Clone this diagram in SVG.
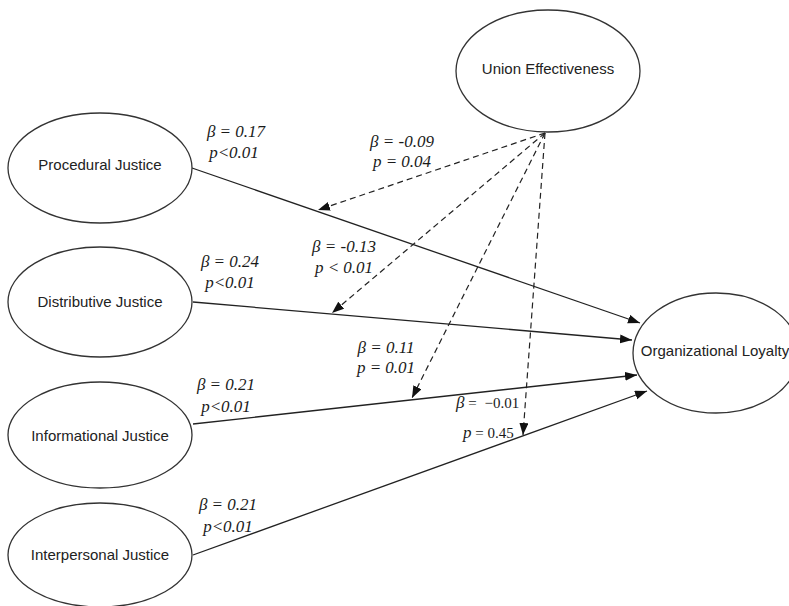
<svg xmlns="http://www.w3.org/2000/svg" width="789" height="606" viewBox="0 0 789 606">
<style>
.node{fill:#fff;stroke:#333;stroke-width:1.3}
.nt{font-family:"Liberation Sans",Arial,sans-serif;font-size:15px;fill:#222;text-anchor:middle}
.lab{font-family:"Liberation Serif","Times New Roman",serif;font-style:italic;font-size:17px;fill:#1a1a1a;text-anchor:middle}
.lab2{font-family:"Liberation Serif","Times New Roman",serif;font-size:15px;fill:#1a1a1a}
.e{stroke:#222;stroke-width:1.3;fill:none}
.d{stroke:#222;stroke-width:1.2;fill:none;stroke-dasharray:6 4}
</style>
<defs>
<marker id="ah" markerUnits="userSpaceOnUse" markerWidth="13" markerHeight="10" refX="12" refY="4.5" orient="auto">
<path d="M0,0 L12,4.5 L0,9 z" fill="#111"/>
</marker>
</defs>
<rect width="789" height="606" fill="#fff"/>
<g id="connectors">
<line class="e" x1="192" y1="168" x2="640" y2="323" marker-end="url(#ah)"/>
<line class="e" x1="193" y1="302" x2="632" y2="340" marker-end="url(#ah)"/>
<line class="e" x1="193" y1="424" x2="637" y2="375" marker-end="url(#ah)"/>
<line class="e" x1="193" y1="555" x2="647" y2="391" marker-end="url(#ah)"/>
<line class="d" x1="545" y1="133" x2="318" y2="210" marker-end="url(#ah)"/>
<line class="d" x1="545" y1="133" x2="332" y2="313" marker-end="url(#ah)"/>
<line class="d" x1="545" y1="133" x2="412" y2="398" marker-end="url(#ah)"/>
<line class="d" x1="545" y1="133" x2="523" y2="435" marker-end="url(#ah)"/>
</g>
<g id="labels">
<text class="lab" x="236" y="137">β = 0.17</text>
<text class="lab" x="234" y="158">p&lt;0.01</text>
<text class="lab" x="402" y="147">β = -0.09</text>
<text class="lab" x="402" y="167">p = 0.04</text>
<text class="lab" x="344" y="252">β = -0.13</text>
<text class="lab" x="344" y="273">p &lt; 0.01</text>
<text class="lab" x="230" y="267">β = 0.24</text>
<text class="lab" x="230" y="288">p&lt;0.01</text>
<text class="lab" x="386" y="353">β = 0.11</text>
<text class="lab" x="386" y="373">p = 0.01</text>
<text class="lab" x="226" y="390">β = 0.21</text>
<text class="lab" x="226" y="412">p&lt;0.01</text>
<text class="lab" x="228" y="510">β = 0.21</text>
<text class="lab" x="228" y="532">p&lt;0.01</text>
<text class="lab2" x="456" y="408"><tspan font-style="italic" font-size="17">β</tspan> = <tspan dx="4">−0.01</tspan></text>
<text class="lab2" x="463" y="438"><tspan font-style="italic" font-size="17">p</tspan> = 0.45</text>
</g>
<g id="union">
<ellipse class="node" cx="548" cy="71" rx="92" ry="61"/>
<text class="nt" x="548" y="74">Union Effectiveness</text>
</g>
<g id="procedural">
<ellipse class="node" cx="100" cy="168" rx="92" ry="55"/>
<text class="nt" x="100" y="170">Procedural Justice</text>
</g>
<g id="distributive">
<ellipse class="node" cx="100" cy="302" rx="92" ry="55"/>
<text class="nt" x="100" y="307">Distributive Justice</text>
</g>
<g id="informational">
<ellipse class="node" cx="100" cy="435" rx="92" ry="53"/>
<text class="nt" x="100" y="441">Informational Justice</text>
</g>
<g id="interpersonal">
<ellipse class="node" cx="100" cy="555" rx="92" ry="52"/>
<text class="nt" x="100" y="560">Interpersonal Justice</text>
</g>
<g id="loyalty">
<ellipse class="node" cx="716" cy="353" rx="83" ry="60"/>
<text class="nt" x="715" y="356">Organizational Loyalty</text>
</g>
</svg>
